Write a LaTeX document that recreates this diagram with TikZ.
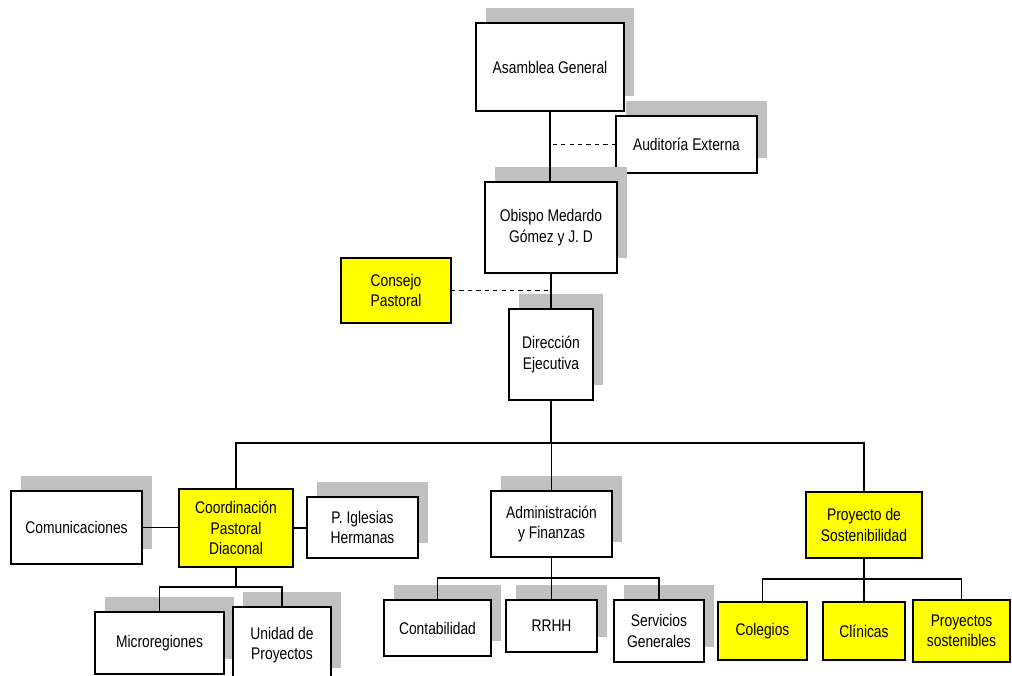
\documentclass[tikz,border=0pt]{standalone}
\usepackage{fontspec}
\setmainfont{Liberation Sans}[FakeStretch=0.82]
\usepackage{tikz}
\usetikzlibrary{calc}
\usetikzlibrary{shadows}
\definecolor{orgyellow}{RGB}{255,255,0}
\definecolor{shadowgray}{RGB}{192,192,192}

\begin{document}
\begin{tikzpicture}[x=0.25mm,y=-0.25mm,outer sep=0pt,inner sep=2pt]

	\tikzstyle{every node}=[font=\fontsize{12}{14.5}\selectfont]

	\tikzset{orgbox/.style={align=center,shape=rectangle,draw=black,line width=1.1pt,
		fill=white,drop shadow={shadow xshift=2.5mm,shadow yshift=3.75mm,
		fill=shadowgray,opacity=1}}}

	\tikzset{yellowbox/.style={align=center,shape=rectangle,draw=black,line width=1.1pt,
		fill=orgyellow}}

	\tikzset{link/.style={draw=black,line width=0.85pt}}

	\clip (0,0) rectangle (1012,676);
	\useasboundingbox (0,0) rectangle (1012,676);

	% Top of the chart.
	\node (asamblea) at (550,67) [orgbox,minimum width=37mm,minimum height=22mm] {Asamblea General};
	\node (auditoria) at (686.5,144.5) [orgbox,minimum width=35.25mm,minimum height=14.25mm] {Auditoría Externa};
	\node (obispo) at (551,227.5) [orgbox,minimum width=33mm,minimum height=22.75mm] {Obispo Medardo\\Gómez y J. D};
	\node (consejo) at (396,290.5) [yellowbox,minimum width=27.5mm,minimum height=16.25mm] {Consejo\\Pastoral};
	\node (direccion) at (551,354.5) [orgbox,minimum width=21mm,minimum height=22.75mm] {Dirección\\Ejecutiva};

	% Pastoral branch.
	\node (coordinacion) at (236,528) [yellowbox,minimum width=28.5mm,minimum height=19.5mm] {Coordinación\\Pastoral\\Diaconal};
	\node (comunicaciones) at (76.5,527.5) [orgbox,minimum width=32.75mm,minimum height=18.25mm] {Comunicaciones};
	\node (iglesias) at (362.5,527.5) [orgbox,minimum width=27.75mm,minimum height=15.25mm] {P. Iglesias\\Hermanas};
	\node (microregiones) at (159.5,643) [orgbox,minimum width=32.25mm,minimum height=15.5mm] {Microregiones};
	\node (unidad) at (282,645) [orgbox,minimum width=24.5mm,minimum height=19mm] {Unidad de\\Proyectos};

	% Administration branch.
	\node (admin) at (551.5,524) [orgbox,minimum width=30.25mm,minimum height=16.5mm] {Administración\\y Finanzas};
	\node (contabilidad) at (437.5,628) [orgbox,minimum width=26.75mm,minimum height=14mm] {Contabilidad};
	\node (rrhh) at (551.5,626) [orgbox,minimum width=22.75mm,minimum height=13mm] {RRHH};
	\node (servicios) at (659,631) [orgbox,minimum width=22.5mm,minimum height=15.5mm] {Servicios\\Generales};

	% Sustainability branch.
	\node (proyecto) at (864,525) [yellowbox,minimum width=29mm,minimum height=16.5mm] {Proyecto de\\Sostenibilidad};
	\node (colegios) at (762.5,631) [yellowbox,minimum width=22.25mm,minimum height=14.5mm] {Colegios};
	\node (clinicas) at (864,631) [yellowbox,minimum width=20.5mm,minimum height=14.5mm] {Clínicas};
	\node (sostenibles) at (961.5,631) [yellowbox,minimum width=24.25mm,minimum height=15.5mm] {Proyectos\\sostenibles};

	% Bus lines.
	\coordinate (mainbus) at (551,443);
	\coordinate (pastoralbus) at (236,587);
	\coordinate (adminbus) at (551.5,578);
	\coordinate (proyectobus) at (864,579);

	% Main line and advisory links.
	\draw [link] (asamblea.south) -- (asamblea.south |- obispo.north);
	\draw [link] (obispo.south) -- (obispo.south |- direccion.north);
	\draw [link,dashed] (auditoria.west) -- (auditoria.west -| asamblea.south);
	\draw [link,dashed] (consejo.east) -- (consejo.east -| obispo.south);

	% Direction to the three branches.
	\draw [link] (direccion.south) -- (direccion.south |- mainbus);
	\draw [link] (coordinacion.north) -- (coordinacion.north |- mainbus) -| (proyecto.north);
	\draw [link] (admin.north) -- (admin.north |- mainbus);

	% Pastoral links.
	\draw [link] (comunicaciones.east) -- (comunicaciones.east -| coordinacion.west);
	\draw [link] (coordinacion.east) -- (coordinacion.east -| iglesias.west);
	\draw [link] (coordinacion.south) -- (pastoralbus);
	\draw [link] (microregiones.north) |- (unidad.north |- pastoralbus) -- (unidad.north);

	% Administration links.
	\draw [link] (admin.south) -- (adminbus);
	\draw [link] (contabilidad.north) |- (servicios.north |- adminbus) -- (servicios.north);
	\draw [link] (rrhh.north) -- (rrhh.north |- adminbus);

	% Sustainability links.
	\draw [link] (proyecto.south) -- (proyectobus);
	\draw [link] (colegios.north) |- (sostenibles.north |- proyectobus) -- (sostenibles.north);
	\draw [link] (clinicas.north) -- (clinicas.north |- proyectobus);
\end{tikzpicture}
\end{document}
